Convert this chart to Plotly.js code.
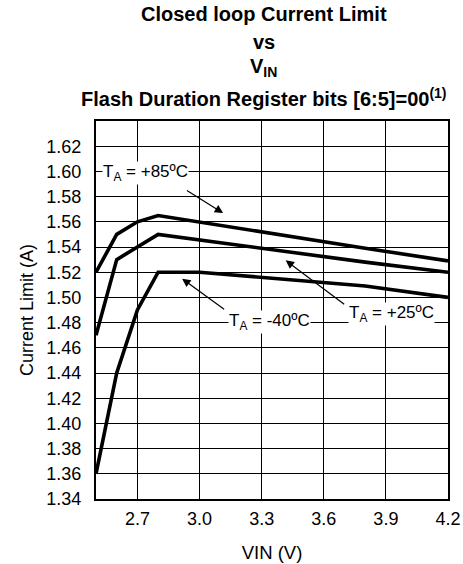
<!DOCTYPE html>
<html><head><meta charset="utf-8">
<script src="https://cdn.plot.ly/plotly-3.0.1.min.js"></script>
<style>body{margin:0;background:#fff}#c{width:463px;height:564px}</style>
</head><body><div id="c"></div>
<script>
const vin85 = [2.5, 2.6, 2.7, 2.8, 3.8, 4.2];
const cur85 = [1.52, 1.55, 1.56, 1.565, 1.539, 1.529];
const vin25 = [2.5, 2.6, 2.8, 3.8, 4.2];
const cur25 = [1.47, 1.53, 1.55, 1.528, 1.52];
const vinM40 = [2.5, 2.6, 2.7, 2.8, 3.0, 3.8, 4.2];
const curM40 = [1.36, 1.44, 1.49, 1.52, 1.52, 1.509, 1.50];
const xTicks = [2.7, 3.0, 3.3, 3.6, 3.9, 4.2];
const xTickText = ['2.7', '3.0', '3.3', '3.6', '3.9', '4.2'];
const yTicks = [1.34,1.36,1.38,1.40,1.42,1.44,1.46,1.48,1.50,1.52,1.54,1.56,1.58,1.60,1.62];
const yTickText = yTicks.map(v => v.toFixed(2));
const labels = ['T<sub>A</sub> = +85ºC', 'T<sub>A</sub> = +25ºC', 'T<sub>A</sub> = -40ºC'];
const titleLines = ['Closed loop Current Limit', 'vs', 'V<sub>IN</sub>', 'Flash Duration Register bits [6:5]=00<sup>(1)</sup>'];

const font = 'Liberation Sans, Arial, sans-serif';
const line = {color: '#000', width: 3.6};
const traces = [
  {x: vin85, y: cur85, mode: 'lines', line: line, name: labels[0]},
  {x: vin25, y: cur25, mode: 'lines', line: line, name: labels[1]},
  {x: vinM40, y: curM40, mode: 'lines', line: line, name: labels[2]}
];
function arrow(x, y, ax, ay) {
  return {x: x, y: y, ax: ax, ay: ay, xref: 'x', yref: 'y', axref: 'x', ayref: 'y',
    text: '', showarrow: true, arrowhead: 2, arrowsize: 1.4, arrowwidth: 1.2, arrowcolor: '#000', standoff: 0};
}
function label(txt, x, y) {
  return {x: x, y: y, xref: 'x', yref: 'y', text: txt, showarrow: false, bgcolor: '#fff',
    font: {family: font, size: 17, color: '#000'}, borderpad: 0};
}
const plotH = 378;
function tline(txt, py) {
  return {x: 0.477, y: (499 - py) / plotH, xref: 'paper', yref: 'paper', xanchor: 'center', yanchor: 'middle',
    text: '<b>' + txt + '</b>', showarrow: false, font: {family: font, size: 20, color: '#000'}};
}
const layout = {
  width: 463, height: 564,
  margin: {l: 96, r: 15, t: 121, b: 65},
  paper_bgcolor: '#fff', plot_bgcolor: '#fff',
  showlegend: false,
  font: {family: font, color: '#000'},
  xaxis: {range: [2.5, 4.2], tickvals: xTicks, ticktext: xTickText, showgrid: true, gridcolor: '#000', gridwidth: 1,
    zeroline: false, showline: true, mirror: true, linecolor: '#000', linewidth: 2, ticks: '',
    tickfont: {family: font, size: 18, color: '#000'}, ticklabelstandoff: 2,
    title: {text: 'VIN (V)', font: {family: font, size: 18.5, color: '#000'}, standoff: 18}},
  yaxis: {range: [1.34, 1.64], tickvals: yTicks.concat([1.64]), ticktext: yTickText.concat(['']), showgrid: true, gridcolor: '#000', gridwidth: 1,
    zeroline: false, showline: true, mirror: true, linecolor: '#000', linewidth: 2, ticks: '',
    tickfont: {family: font, size: 18, color: '#000'}, ticklabelstandoff: 9,
    title: {text: 'Current Limit (A)', font: {family: font, size: 18, color: '#000'}, standoff: 8}},
  annotations: [
    tline(titleLines[0], 14.5),
    tline(titleLines[1], 42),
    tline(titleLines[2], 67),
    tline(titleLines[3], 97),
    arrow(3.114, 1.5669, 2.932, 1.5856),
    arrow(2.916, 1.5149, 3.126, 1.4898),
    arrow(3.416, 1.5294, 3.706, 1.4937),
    label(labels[0], 2.739, 1.599),
    label(labels[2], 3.339, 1.4805),
    label(labels[1], 3.929, 1.4865)
  ]
};
Plotly.newPlot('c', traces, layout, {staticPlot: true});
</script></body></html>
